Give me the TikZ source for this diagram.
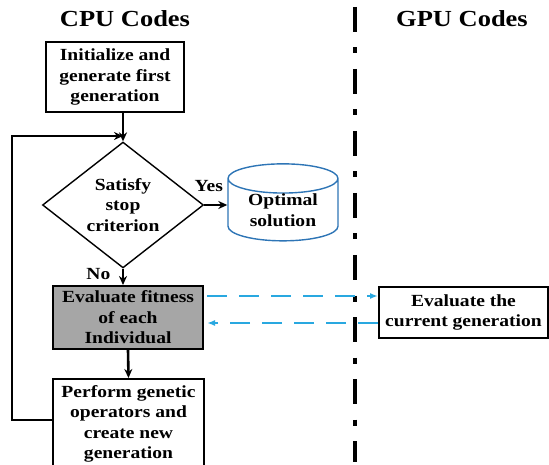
\documentclass[tikz,border=0pt]{standalone}
\usepackage{fontspec}
\setmainfont{Liberation Serif}[FakeStretch=1.15]
\usetikzlibrary{arrows.meta,shapes.geometric,calc}
\definecolor{FitGray}{HTML}{A6A6A6}
\definecolor{DbBlue}{HTML}{2E75B6}
\definecolor{LinkBlue}{HTML}{29A8E0}

\begin{document}
\begin{tikzpicture}[x=1pt, y=-1pt,
  every node/.style={font=\fontsize{17}{20.5}\selectfont\bfseries, align=center},
  box/.style={draw, line width=2pt, inner sep=2pt},
  decide/.style={draw, diamond, line width=1.4pt, inner sep=0pt, minimum width=161pt, minimum height=114pt},
  store/.style={draw=DbBlue, cylinder, shape border rotate=90, aspect=0.42, inner sep=0pt, line width=1.4pt, minimum width=110pt, minimum height=74pt},
  arr/.style={-{Stealth[length=9pt, width=8pt]}, line width=2.6pt},
  loopline/.style={-{Stealth[length=9pt, width=8pt]}, line width=2pt},
  gpuarr/.style={-{Latex[length=8pt, width=6pt]}, LinkBlue, line width=2.6pt, dash pattern=on 20pt off 12pt}
]
\useasboundingbox (0,0) rectangle (549,465);

% column titles and the CPU/GPU split
\node[font=\fontsize{23}{26}\selectfont\bfseries] (cpu) at (125,19) {CPU Codes};
\node[font=\fontsize{23}{26}\selectfont\bfseries] (gpu) at (462,19) {GPU Codes};
\draw[line width=4.5pt, dash pattern=on 25pt off 15.5pt on 6pt off 15.5pt] (355,7) -- (355,462);

% CPU side
\node[box, minimum width=138pt, minimum height=70pt] (init) at (115,77) {Initialize and\\generate first\\generation};
\node[decide] (stop) at (123,205) {Satisfy\\stop\\criterion};
\node[store] (best) at (283,210) {Optimal\\solution};
\node[box, fill=FitGray, minimum width=150pt, minimum height=63pt] (fit) at (128,317.5) {Evaluate fitness\\of each\\Individual};
\node[box, minimum width=151pt, minimum height=90pt] (ops) at (128.5,424) {Perform genetic\\operators and\\create new\\generation};

% GPU side
\node[box, minimum width=169pt, minimum height=51pt] (eval) at (463.5,312.5) {Evaluate the\\current generation};

\coordinate (back) at (12,136);
\draw[arr] (init.south -| stop.north) -- (stop.north);
\draw[arr] (stop.east) -- (stop.east -| best.west) node[pos=0.2, above=9pt] (yes) {Yes};
\draw[arr] (stop.south) -- (stop.south |- fit.north) node[pos=0.35, left=8pt] (no) {No};
\draw[arr] (fit.south) -- (ops.north);
\draw[loopline] ([yshift=4pt]ops.west) -| (back) -- (back -| stop.north);

\draw[gpuarr] ([xshift=3pt, yshift=21.5pt]fit.east) -- ([yshift=21.5pt]fit.east -| eval.west);
\draw[gpuarr] ([yshift=-10.5pt]eval.west) -- ([xshift=3pt, yshift=-10.5pt]eval.west -| fit.east);
\end{tikzpicture}
\end{document}
